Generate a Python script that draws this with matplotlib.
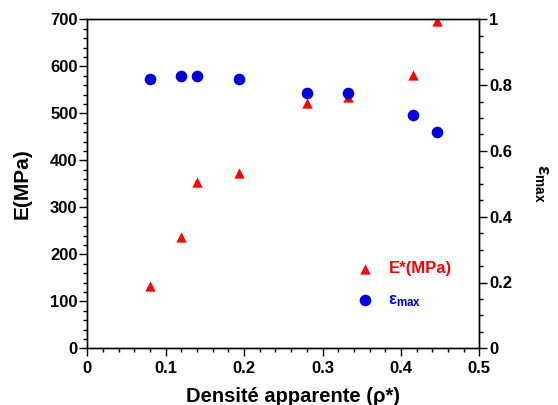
import matplotlib
matplotlib.use("Agg")
import matplotlib.pyplot as plt
from matplotlib.ticker import MultipleLocator, FuncFormatter

plt.rcParams['font.family'] = ['Liberation Sans', 'DejaVu Sans']
plt.rcParams['font.weight'] = 'bold'
plt.rcParams['mathtext.fontset'] = 'custom'
plt.rcParams['mathtext.rm'] = 'Liberation Sans:bold'
plt.rcParams['mathtext.bf'] = 'Liberation Sans:bold'
plt.rcParams['mathtext.it'] = 'Liberation Sans:bold'

density = [0.080, 0.120, 0.140, 0.194, 0.280, 0.333, 0.416, 0.446]
E_star = [133, 237, 354, 374, 522, 535, 581, 697]
eps_max = [0.818, 0.828, 0.828, 0.818, 0.777, 0.777, 0.708, 0.657]

x_ticks = [0, 0.1, 0.2, 0.3, 0.4, 0.5]
y_left_ticks = [0, 100, 200, 300, 400, 500, 600, 700]
y_right_ticks = [0, 0.2, 0.4, 0.6, 0.8, 1.0]

fig = plt.figure(figsize=(5.58, 4.05), dpi=100)
ax = fig.add_axes([87.3/558, 1-348.3/405, (479.3-87.3)/558, (348.3-19.3)/405])
ax2 = ax.twinx()

h1 = ax.scatter(density, E_star, marker='^', s=55, color='#ff0000', linewidths=0, zorder=3, label='E*(MPa)')
h2 = ax2.scatter(density, eps_max, marker='o', s=70, color='#0000dd', linewidths=0, zorder=3,
                 label=r'$\mathbf{\epsilon}_{\mathbf{max}}$')

ax.set_xlim(0, 0.5)
ax.set_ylim(0, 700)
ax2.set_ylim(0, 1)
ax.set_xticks(x_ticks)
ax.set_yticks(y_left_ticks)
ax2.set_yticks(y_right_ticks)
ax.xaxis.set_minor_locator(MultipleLocator(0.02))
ax.yaxis.set_minor_locator(MultipleLocator(20))
ax2.yaxis.set_minor_locator(MultipleLocator(0.05))

fmt = FuncFormatter(lambda v, p: ('%g' % round(v, 3)))
ax.xaxis.set_major_formatter(fmt)
ax2.yaxis.set_major_formatter(fmt)

for a in (ax, ax2):
    for s in a.spines.values():
        s.set_linewidth(1.0)
    a.tick_params(which='major', direction='out', length=6, width=1, labelsize=12, pad=1)
    a.tick_params(which='minor', direction='out', length=3, width=1)
ax.tick_params(axis='x', which='both', top=False)
ax.tick_params(axis='x', which='major', pad=3)
for lab in ax.get_xticklabels() + ax.get_yticklabels() + ax2.get_yticklabels():
    lab.set_fontweight('bold')

ax.set_xlabel('Densité apparente (ρ*)', fontsize=14.5, fontweight='bold')
ax.xaxis.set_label_coords(0.5 + 10/392, -0.118)
ax.set_ylabel('E(MPa)', fontsize=15, fontweight='bold')
ax.yaxis.set_label_coords(-0.142, 0.5)
ax2.set_ylabel(r'$\mathbf{\epsilon}_{\mathbf{max}}$', fontsize=14, rotation=270)
ax2.yaxis.set_label_coords(1.18, 0.5)

leg = ax.legend(handles=[h1, h2], loc='upper left', bbox_to_anchor=(0.645, 0.29),
                frameon=False, fontsize=12, labelspacing=0.95, handletextpad=0.4,
                scatterpoints=1, borderpad=0)
for t, c in zip(leg.get_texts(), ['#ff0000', '#0000dd']):
    t.set_color(c)
    t.set_fontweight('bold')

fig.savefig('out.png', dpi=100)
